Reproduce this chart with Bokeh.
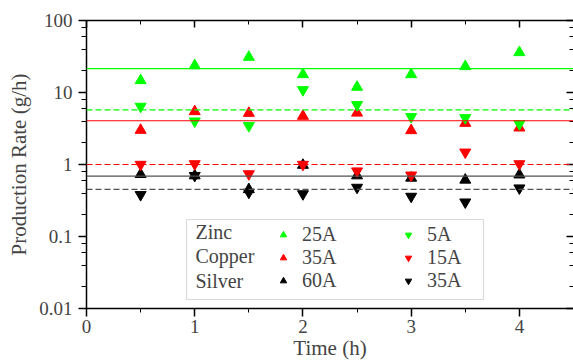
from bokeh.plotting import figure
from bokeh.models import (Span, Legend, LegendItem, Label, BoxAnnotation, LinearAxis, LogAxis,
                          SingleIntervalTicker, LogTicker, CustomJSTickFormatter, Range1d)
from bokeh.embed import file_html
from bokeh.resources import INLINE

# ---- data ----
time_h = [0.5, 1.0, 1.5, 2.0, 2.5, 3.0, 3.5, 4.0]
zinc_25A = [14.7, 23.7, 31.0, 17.8, 11.9, 17.8, 23.0, 36.0]
zinc_5A = [6.4, 4.0, 3.45, 10.9, 6.75, 4.6, 4.45, 3.67]
copper_35A = [3.0, 5.45, 5.16, 4.7, 5.2, 2.97, 3.75, 3.23]
copper_15A = [1.0, 1.02, 0.74, 1.0, 0.81, 0.71, 1.48, 1.02]
silver_60A = [0.73, 0.70, 0.45, 0.98, 0.70, 0.65, 0.61, 0.72]
silver_35A = [0.38, 0.70, 0.41, 0.39, 0.48, 0.36, 0.30, 0.47]

# average production rates (horizontal lines)
avg_zinc_25A, avg_zinc_5A = 21.5, 5.75
avg_copper_35A, avg_copper_15A = 4.05, 1.0
avg_silver_60A, avg_silver_35A = 0.69, 0.45

metals = ["Zinc", "Copper", "Silver"]
high_labels = ["25A", "35A", "60A"]
low_labels = ["5A", "15A", "35A"]

x_range = (0, 4.5)
y_range = (0.01, 100)

FONT = "Liberation Serif"
GREEN, RED, BLACK = "#00ff00", "#ff0000", "#000000"

p = figure(width=573, height=362, x_range=Range1d(*x_range), y_range=Range1d(*y_range),
           y_axis_type="log", output_backend="svg", toolbar_location=None,
           min_border_left=86, min_border_right=0, min_border_top=20, min_border_bottom=54,
           x_axis_label="Time (h)", y_axis_label="Production Rate (g/h)")
p.outline_line_color = None
p.xgrid.visible = False
p.ygrid.visible = False
p.background_fill_color = "white"
p.border_fill_color = "white"

xt = SingleIntervalTicker(interval=1, num_minor_ticks=2)
yt = LogTicker()
fmt = CustomJSTickFormatter(code="return parseFloat(tick.toPrecision(6)).toString();")

for ax in (p.xaxis[0], p.yaxis[0]):
    ax.axis_line_width = 1.5
    ax.major_tick_line_width = 1.5
    ax.minor_tick_line_width = 1
    ax.major_label_text_font = FONT
    ax.major_label_text_font_size = "19px"
    ax.axis_label_text_font = FONT
    ax.axis_label_text_font_size = "21px"
    ax.axis_label_text_font_style = "normal"

p.xaxis[0].ticker = xt
p.xaxis[0].major_tick_out = 8
p.xaxis[0].major_tick_in = 0
p.xaxis[0].minor_tick_out = 4
p.xaxis[0].minor_tick_in = 0
p.xaxis[0].major_label_standoff = 3
p.xaxis[0].axis_label_standoff = 0

p.yaxis[0].ticker = yt
p.yaxis[0].formatter = fmt
p.yaxis[0].major_tick_out = 8
p.yaxis[0].major_tick_in = 0
p.yaxis[0].minor_tick_out = 5
p.yaxis[0].minor_tick_in = 0
p.yaxis[0].major_label_standoff = 6
p.yaxis[0].axis_label_standoff = 5

blank = CustomJSTickFormatter(code="return '';")
top = LinearAxis(ticker=xt, formatter=blank, major_tick_in=7, major_tick_out=0,
                 minor_tick_in=4, minor_tick_out=0, major_label_standoff=0,
                 major_label_text_font_size="0px", axis_line_width=1.5,
                 major_tick_line_width=1.5)
p.add_layout(top, "above")
right = LogAxis(ticker=yt, formatter=blank, major_tick_in=7, major_tick_out=0,
                minor_tick_in=4, minor_tick_out=0, major_label_standoff=0,
                major_label_text_font_size="0px", axis_line_color=None,
                major_tick_line_width=1.5)
p.add_layout(right, "right")

# average lines
for val, col, dash in [(avg_zinc_25A, GREEN, "solid"), (avg_zinc_5A, GREEN, "6 3"),
                       (avg_copper_35A, RED, "solid"), (avg_copper_15A, RED, "6 3"),
                       (avg_silver_60A, "#505050", "solid"), (avg_silver_35A, "#505050", "6 3")]:
    p.add_layout(Span(location=val, dimension="width", line_color=col,
                      line_width=1.2, line_dash=dash))

MS = 11
r_z25 = p.scatter(time_h, zinc_25A, marker="triangle", size=MS, color=GREEN)
r_c35 = p.scatter(time_h, copper_35A, marker="triangle", size=MS, color=RED)
r_s60 = p.scatter(time_h, silver_60A, marker="triangle", size=MS, color=BLACK)
r_z5 = p.scatter(time_h, zinc_5A, marker="inverted_triangle", size=MS, color=GREEN)
r_c15 = p.scatter(time_h, copper_15A, marker="inverted_triangle", size=MS, color=RED)
r_s35 = p.scatter(time_h, silver_35A, marker="inverted_triangle", size=MS, color=BLACK)

# legend frame with metal names
p.add_layout(BoxAnnotation(left=100, right=397, top=89, bottom=9,
                           left_units="screen", right_units="screen",
                           top_units="screen", bottom_units="screen",
                           fill_color="white", fill_alpha=1.0,
                           line_color="#888888", line_width=1.2))
ROW = 24.5
for i, m in enumerate(metals):
    p.add_layout(Label(x=109, y=52.5 + ROW * (1 - i), x_units="screen", y_units="screen",
                       text=m, text_font=FONT, text_font_size="20px",
                       text_baseline="middle", text_align="left"))

items = [LegendItem(label=high_labels[0], renderers=[r_z25]),
         LegendItem(label=high_labels[1], renderers=[r_c35]),
         LegendItem(label=high_labels[2], renderers=[r_s60]),
         LegendItem(label=low_labels[0], renderers=[r_z5]),
         LegendItem(label=low_labels[1], renderers=[r_c15]),
         LegendItem(label=low_labels[2], renderers=[r_s35])]
leg = Legend(items=items, location=(189, 16), orientation="vertical", nrows=3,
             padding=0, margin=0, spacing=0, glyph_width=16, glyph_height=23,
             label_height=23, label_width=98, label_standoff=11,
             label_text_font=FONT, label_text_font_size="20px",
             border_line_color=None, background_fill_alpha=0)
p.add_layout(leg, "center")

open("out.html", "w").write(file_html(p, INLINE))
